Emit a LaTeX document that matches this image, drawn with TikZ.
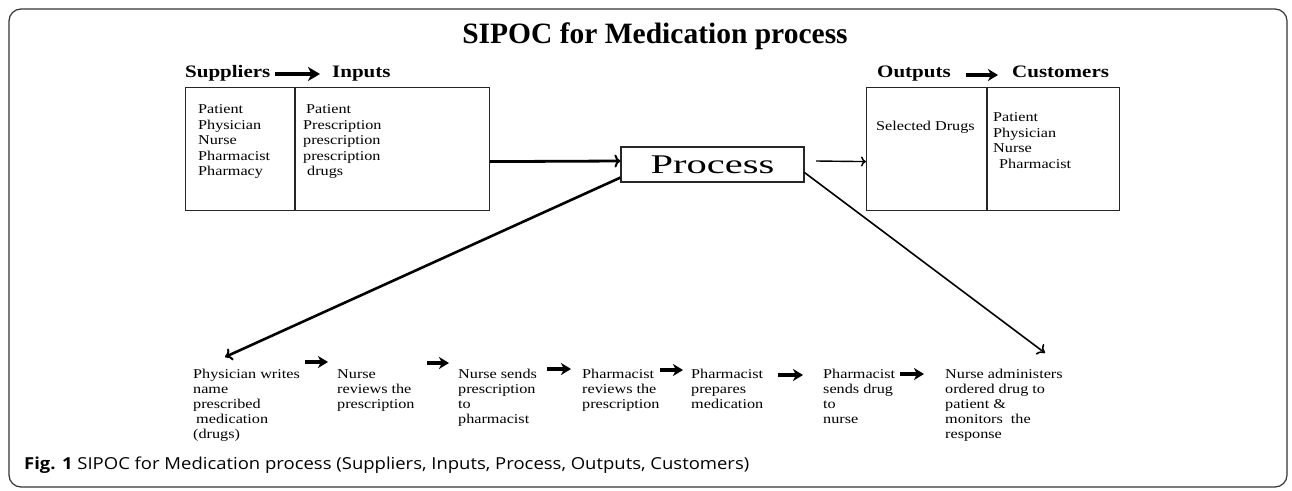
\documentclass[tikz,border=0pt]{standalone}
\usepackage{fontspec}
\setmainfont{Liberation Serif}
\newfontfamily\wserif[FakeStretch=1.2]{Liberation Serif}
\newfontfamily\pserif[FakeStretch=1.5]{Liberation Serif}
\newfontfamily\capsans[FakeStretch=1.12]{Open Sans}
\usetikzlibrary{arrows.meta}
\newcommand\fl{\rule{0pt}{11pt}}
\tikzset{
  frame/.style={draw=black!80, line width=1.2pt, rounded corners=12pt},
  sbox/.style={draw=black!85, line width=1.2pt, inner sep=0pt, anchor=north west},
  hdr/.style={font=\wserif\bfseries\fontsize{17.5}{20}\selectfont, inner sep=0pt, anchor=base west},
  small/.style={font=\wserif\fontsize{13.5}{15.5}\selectfont, align=left, inner sep=0pt, anchor=north west},
  stepnode/.style={font=\wserif\fontsize{13.5}{15}\selectfont, align=left, inner sep=0pt, anchor=north west},
  boldarrow/.style={line width=3.2pt, -{Stealth[length=10pt,width=12pt,inset=3pt]}},
  hdrarrow/.style={line width=3.6pt, -{Stealth[length=12pt,width=14pt,inset=3.5pt]}},
  mainarrow/.style={line width=2.8pt, -{To[length=6pt,width=13pt,line width=2pt]}},
  thinarrow/.style={line width=1.4pt, -{To[length=5pt,width=10pt,line width=1.4pt]}},
}
\begin{document}
\begin{tikzpicture}[x=1pt,y=-1pt]
\useasboundingbox (0,0) rectangle (1292,490);
\fill[white] (0,0) rectangle (1292,490);
\draw[frame] (9,9) rectangle (1287,487);

% title
\node[font=\bfseries\fontsize{29.5}{32}\selectfont, inner sep=0pt] (title) at (655,36) {SIPOC for Medication process};

% headers
\node[hdr] (sup) at (185,77) {Suppliers};
\node[hdr] (inp) at (332,77) {Inputs};
\node[hdr] (outp) at (877,77) {Outputs};
\node[hdr] (cust) at (1012,77) {Customers};
\coordinate (h1s) at (275,74);
\coordinate (h1e) at (320,74);
\coordinate (h2s) at (966,75);
\coordinate (h2e) at (998,75);
\draw[hdrarrow] (h1s) -- (h1e);
\draw[boldarrow] (h2s) -- (h2e);

% left box
\node[sbox, minimum width=304pt, minimum height=123pt] (sibox) at (185,87) {};
\draw[black!85, line width=1.2pt] (295,87) -- (295,210);
\node[small] (suptext) at (198,102.5) {\fl Patient\\Physician\\Nurse\\Pharmacist\\Pharmacy};
\node[small] (inptext) at (303,102.5) {\fl\hspace{3pt}Patient\\Prescription\\prescription\\prescription\\\hspace{4pt}drugs};

% right box
\node[sbox, minimum width=253pt, minimum height=123pt] (ocbox) at (866,87) {};
\draw[black!85, line width=1.2pt] (987,87) -- (987,210);
\node[small] (outtext) at (876,119.5) {\fl Selected Drugs};
\node[small] (custtext) at (993,110.5) {\fl Patient\\Physician\\Nurse\\\hspace{6pt}Pharmacist};

% process
\node[draw=black!85, line width=1.2pt, minimum width=183pt, minimum height=35pt, inner sep=0pt,
      font=\pserif\fontsize{27}{30}\selectfont] (proc) at (712.5,164.5) {Process};

\draw[mainarrow] ([yshift=-12.5pt]sibox.east) -- ([yshift=3.5pt]proc.west);
\coordinate (po) at (816,161);
\draw[thinarrow] (po) -- ([yshift=-12.5pt]ocbox.west);

% steps
\node[stepnode] (s1) at (193,367.5) {\fl Physician writes\\name\\prescribed\\\hspace{3pt}medication\\(drugs)};
\node[stepnode] (s2) at (337,367.5) {\fl Nurse\\reviews the\\prescription};
\node[stepnode] (s3) at (458,367.5) {\fl Nurse sends\\prescription\\to\\pharmacist};
\node[stepnode] (s4) at (582,367.5) {\fl Pharmacist\\reviews the\\prescription};
\node[stepnode] (s5) at (691,367.5) {\fl Pharmacist\\prepares\\medication};
\node[stepnode] (s6) at (823,367.5) {\fl Pharmacist\\sends drug\\to\\nurse};
\node[stepnode] (s7) at (945,367.5) {\fl Nurse administers\\ordered drug to\\patient \&\\monitors\ \ the\\response};

% diagonals
\draw[line width=2.6pt, -{To[length=7pt,width=13pt,line width=2pt]}] ([yshift=5pt]proc.south west) -- ([xshift=32pt,yshift=10.5pt]s1.north west);
\draw[line width=1.6pt, -{To[length=7pt,width=13pt,line width=1.6pt]}] ([yshift=10pt]proc.south east) -- ([xshift=100pt,yshift=14.5pt]s7.north west);

% step arrows
\coordinate (a1s) at (305,362); \coordinate (a1e) at (328,362);
\coordinate (a2s) at (427,363); \coordinate (a2e) at (449,363);
\coordinate (a3s) at (547,369); \coordinate (a3e) at (571,369);
\coordinate (a4s) at (660,370); \coordinate (a4e) at (683,370);
\coordinate (a5s) at (778,375); \coordinate (a5e) at (803,375);
\coordinate (a6s) at (900,374); \coordinate (a6e) at (924,374);
\foreach \i in {1,...,6} \draw[boldarrow] (a\i s) -- (a\i e);

% caption
\node[font=\capsans\fontsize{16.5}{19}\selectfont, inner sep=0pt, anchor=base west] (cap) at (24,469)
  {\textbf{Fig. 1} SIPOC for Medication process (Suppliers, Inputs, Process, Outputs, Customers)};
\end{tikzpicture}
\end{document}
